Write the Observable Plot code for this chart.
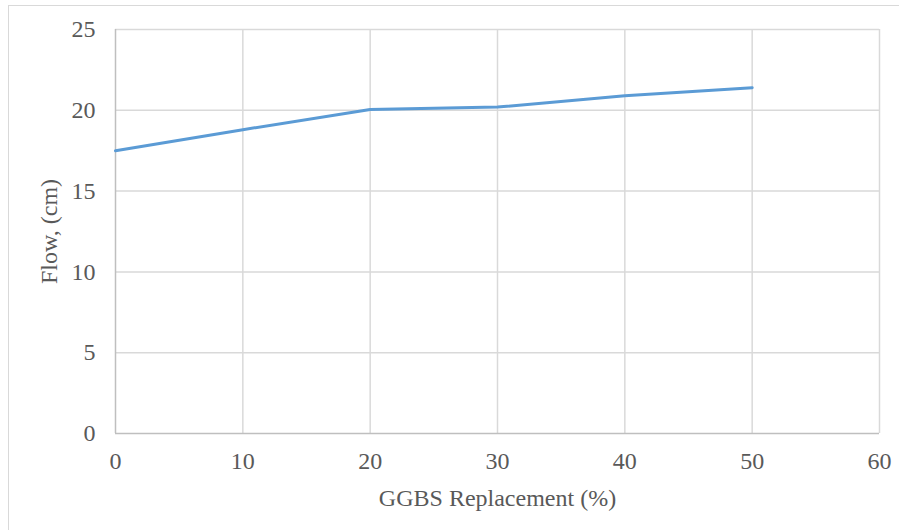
<!DOCTYPE html>
<html>
<head>
<meta charset="utf-8">
<script src="https://cdn.jsdelivr.net/npm/d3@7"></script>
<script src="https://cdn.jsdelivr.net/npm/@observablehq/plot@0.6"></script>
<style>
  html, body { margin: 0; padding: 0; background: #fff; overflow: hidden; }
  #frame { position: absolute; left: 8px; top: 5px; width: 1000px; height: 1000px; border: 1.5px solid #d9d9d9; box-sizing: border-box; }
  #chart { position: absolute; left: 0; top: 0; }
  #chart svg, #chart svg text, #chart svg g { font-family: 'Liberation Serif', 'Times New Roman', serif !important; font-size: 24px !important; font-variant: normal !important; }
</style>
</head>
<body>
<div id="frame"></div>
<div id="chart"></div>
<script>
const replacement = [0, 10, 20, 30, 40, 50];
const flow = [17.5, 18.8, 20.05, 20.2, 20.9, 21.4];
const xTicks = [0, 10, 20, 30, 40, 50, 60];
const yTicks = [0, 5, 10, 15, 20, 25];

const data = replacement.map((r, i) => ({r, f: flow[i]}));

const font = "'Liberation Serif', 'Times New Roman', serif";
const chart = Plot.plot({
  width: 899,
  height: 530,
  marginLeft: 115,
  marginRight: 20,
  marginTop: 29,
  marginBottom: 97,
  style: {fontFamily: font, fontSize: "24px", color: "#595959", background: "transparent", overflow: "visible"},
  x: {domain: [0, 60]},
  y: {domain: [0, 25]},
  marks: [
    Plot.ruleX(xTicks.filter(d => d > 0), {stroke: "#d9d9d9", strokeWidth: 1.5}),
    Plot.ruleY(yTicks.filter(d => d > 0), {stroke: "#d9d9d9", strokeWidth: 1.5}),
    Plot.ruleX([0], {stroke: "#bfbfbf", strokeWidth: 1.5}),
    Plot.ruleY([0], {stroke: "#bfbfbf", strokeWidth: 1.5}),
    Plot.axisX({ticks: xTicks, tickSize: 0, tickPadding: 18, label: "GGBS Replacement (%)", labelAnchor: "center", labelArrow: "none", labelOffset: 72, fill: "#595959"}),
    Plot.axisY({ticks: yTicks, tickSize: 0, tickPadding: 20, label: "Flow, (cm)", labelAnchor: "center", labelArrow: "none", labelOffset: 76, fill: "#595959"}),
    Plot.line(data, {x: "r", y: "f", stroke: "#5b9bd5", strokeWidth: 3})
  ]
});
document.getElementById("chart").appendChild(chart);
</script>
</body>
</html>
